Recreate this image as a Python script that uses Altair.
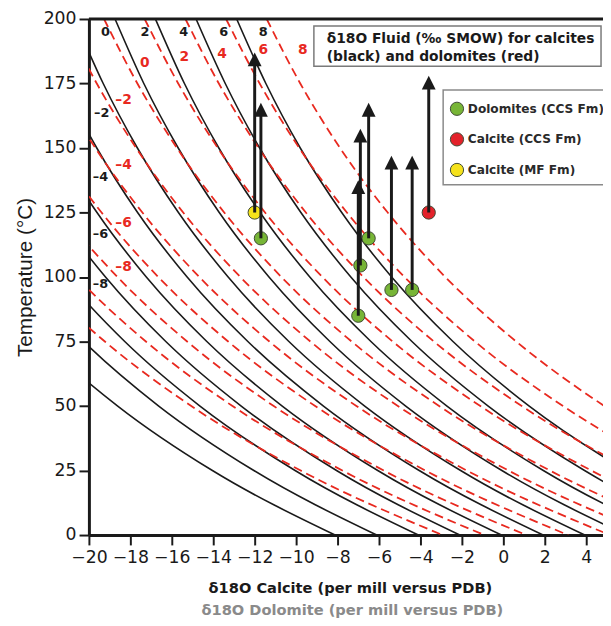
import altair as alt
import pandas as pd

# ---------------- data ----------------
T_LEVELS = [0, 25, 50, 75, 100, 125, 150, 175, 200]

# calcite isolines (black): fluid d18O (SMOW) and calcite d18O (PDB) at each T level
CALCITE_FLUIDS = [-12, -10, -8, -6, -4, -2, 0, 2, 4, 6, 8]
CALCITE_X = [
    [-8.12, -14.04, -18.61, -22.23, -25.12, -27.49, -29.44, -31.08, -32.46],
    [-6.11, -12.04, -16.63, -20.25, -23.15, -25.52, -27.48, -29.12, -30.50],
    [-4.10, -10.05, -14.64, -18.27, -21.18, -23.55, -25.51, -27.15, -28.54],
    [-2.10, -8.05, -12.65, -16.29, -19.20, -21.58, -23.55, -25.19, -26.58],
    [-0.09, -6.06, -10.67, -14.31, -17.23, -19.61, -21.58, -23.23, -24.62],
    [1.92, -4.06, -8.68, -12.33, -15.26, -17.65, -19.62, -21.27, -22.66],
    [3.93, -2.06, -6.69, -10.35, -13.28, -15.68, -17.66, -19.31, -20.70],
    [5.94, -0.07, -4.71, -8.37, -11.31, -13.71, -15.69, -17.35, -18.74],
    [7.94, 1.93, -2.72, -6.39, -9.34, -11.74, -13.73, -15.39, -16.79],
    [9.95, 3.92, -0.73, -4.41, -7.36, -9.77, -11.76, -13.42, -14.83],
    [11.96, 5.92, 1.25, -2.43, -5.39, -7.80, -9.80, -11.46, -12.87],
]

# dolomite isolines (red dashed)
DOLOMITE_FLUIDS = [-12, -10, -8, -6, -4, -2, 0, 2, 4, 6, 8]
DOLOMITE_X = [
    [-2.93, -9.78, -15.06, -19.23, -22.58, -25.31, -27.56, -29.45, -31.04],
    [-0.91, -7.77, -13.07, -17.25, -20.60, -23.34, -25.59, -27.48, -29.07],
    [1.11, -5.77, -11.08, -15.26, -18.62, -21.36, -23.63, -25.52, -27.11],
    [3.13, -3.76, -9.08, -13.28, -16.65, -19.39, -21.66, -23.55, -25.15],
    [5.15, -1.76, -7.09, -11.29, -14.67, -17.42, -19.69, -21.59, -23.19],
    [7.16, 0.25, -5.09, -9.31, -12.69, -15.45, -17.72, -19.62, -21.23],
    [9.18, 2.25, -3.10, -7.32, -10.71, -13.47, -15.75, -17.66, -19.27],
    [11.20, 4.25, -1.11, -5.34, -8.73, -11.50, -13.78, -15.69, -17.31],
    [13.22, 6.26, 0.89, -3.35, -6.75, -9.53, -11.81, -13.73, -15.34],
    [15.24, 8.26, 2.88, -1.37, -4.77, -7.55, -9.85, -11.76, -13.38],
    [17.26, 10.27, 4.88, 0.62, -2.80, -5.58, -7.88, -9.80, -11.42],
]

# samples
SAMPLE_GROUP = ["Dolomites (CCS Fm)"] * 6 + ["Calcite (CCS Fm)", "Calcite (MF Fm)"]
SAMPLE_X = [-11.7, -6.5, -6.9, -7.0, -5.4, -4.4, -3.6, -12.0]
SAMPLE_T = [115, 115, 104.5, 85, 95, 95, 125, 125]
SAMPLE_TOP = [167.5, 167.5, 157.5, 137.5, 147, 147, 178, 187]

LEGEND_NAMES = ["Dolomites (CCS Fm)", "Calcite (CCS Fm)", "Calcite (MF Fm)"]
LEGEND_COLORS = ["#77b536", "#e3222a", "#f5e21b"]

# isoline labels
CALC_LABEL_TEXT = ["0", "2", "4", "6", "8", "–2", "–4", "–6", "–8"]
CALC_LABEL_X = [-19.20, -17.30, -15.43, -13.49, -11.59, -19.38, -19.44, -19.44, -19.44]
CALC_LABEL_T = [194.9, 194.9, 194.9, 194.9, 194.9, 163.6, 138.8, 116.5, 97.2]
DOLO_LABEL_TEXT = ["0", "2", "4", "6", "8", "–2", "–4", "–6", "–8"]
DOLO_LABEL_X = [-17.30, -15.40, -13.57, -11.59, -9.68, -18.33, -18.33, -18.33, -18.33]
DOLO_LABEL_T = [182.8, 185.3, 186.6, 187.8, 187.8, 168.7, 143.3, 121.0, 103.8]

X_TICKS = list(range(-20, 5, 2))
Y_TICKS = list(range(0, 201, 25))

BOX_TITLE = ["δ18O Fluid (‰ SMOW) for calcites", "(black) and dolomites (red)"]
X_TITLE_1 = "δ18O Calcite (per mill versus PDB)"
X_TITLE_2 = "δ18O Dolomite (per mill versus PDB)"
Y_TITLE = "Temperature (°C)"

# ---------------- tables ----------------
def curves(fluids, table):
    rows = []
    for f, xs in zip(fluids, table):
        for t, x in zip(T_LEVELS, xs):
            rows.append({"fluid": f, "x": x, "T": t})
    return pd.DataFrame(rows)

calc_df = curves(CALCITE_FLUIDS, CALCITE_X)
dolo_df = curves(DOLOMITE_FLUIDS, DOLOMITE_X)
samp_df = pd.DataFrame({"group": SAMPLE_GROUP, "x": SAMPLE_X, "T": SAMPLE_T, "top": SAMPLE_TOP})
calc_lab = pd.DataFrame({"label": CALC_LABEL_TEXT, "x": CALC_LABEL_X, "T": CALC_LABEL_T})
dolo_lab = pd.DataFrame({"label": DOLO_LABEL_TEXT, "x": DOLO_LABEL_X, "T": DOLO_LABEL_T})
one = pd.DataFrame({"a": [0]})

W, H = 521, 523
FONT = "DejaVu Sans"
INK = "#1a1a1a"
RED = "#e8291f"

xs = alt.Scale(domain=[-20, 4.81], nice=False, zero=False)
ys = alt.Scale(domain=[0, 200], nice=False, zero=False)
x_axis = alt.Axis(values=X_TICKS, title=None, labelPadding=4, labelFlush=False, labelOverlap=False)
y_axis = alt.Axis(values=Y_TICKS, title=None, labelPadding=3)
X = alt.X("x:Q", scale=xs, axis=x_axis)
Y = alt.Y("T:Q", scale=ys, axis=y_axis)

black = alt.Chart(calc_df).mark_line(
    color=INK, strokeWidth=1.6, interpolate="monotone", clip=True
).encode(x=X, y=Y, detail="fluid:N")

red = alt.Chart(dolo_df).mark_line(
    color=RED, strokeWidth=1.8, strokeDash=[9, 5], interpolate="monotone", clip=True
).encode(x=X, y=Y, detail="fluid:N")

black_lab = alt.Chart(calc_lab).mark_text(
    font=FONT, fontSize=13, fontWeight="bold", color=INK, align="center", baseline="middle"
).encode(x=X, y=Y, text="label:N")

red_lab = alt.Chart(dolo_lab).mark_text(
    font=FONT, fontSize=14, fontWeight="bold", color=RED, align="center", baseline="middle"
).encode(x=X, y=Y, text="label:N")

color = alt.Color("group:N", scale=alt.Scale(domain=LEGEND_NAMES, range=LEGEND_COLORS), legend=None)

dots = alt.Chart(samp_df).mark_point(
    shape="circle", filled=True, size=180, stroke="#3f4a35", strokeWidth=1, opacity=1
).encode(x=X, y=Y, color=color)

shafts = alt.Chart(samp_df).mark_rule(strokeWidth=3, color=INK, y2Offset=6).encode(
    x=X, y=Y, y2=alt.Y2("top:Q")
)

heads = alt.Chart(samp_df).mark_point(
    shape="M0,-1L1,1L-1,1Z", filled=True, size=196, color=INK, opacity=1, yOffset=7
).encode(x=X, y=alt.Y("top:Q", scale=ys, axis=y_axis))

top_border = alt.Chart(one).mark_rule(strokeWidth=3, color=INK).encode(
    x=alt.value(0), x2=alt.value(W), y=alt.value(0)
)

# title box
tbox = alt.Chart(one).mark_rect(fill="white", stroke="#7a7a7a", strokeWidth=1.5).encode(
    x=alt.value(228), x2=alt.value(519), y=alt.value(7), y2=alt.value(48)
)
ttext = [
    alt.Chart(one).mark_text(font=FONT, fontSize=14, fontWeight="bold", color=INK,
                             align="left", baseline="middle").encode(
        x=alt.value(241), y=alt.value(yy), text=alt.value(s))
    for s, yy in zip(BOX_TITLE, [20, 38.5])
]

# legend box
lbox = alt.Chart(one).mark_rect(fill="white", stroke="#8a8a8a", strokeWidth=1.5).encode(
    x=alt.value(359), x2=alt.value(522), y=alt.value(72), y2=alt.value(168)
)
legend_layers = []
for name, col, yy in zip(LEGEND_NAMES, LEGEND_COLORS, [91, 122, 153]):
    legend_layers.append(
        alt.Chart(one).mark_point(shape="circle", filled=True, size=180, fill=col,
                                  stroke="#3f4a35", strokeWidth=1, opacity=1).encode(
            x=alt.value(373), y=alt.value(yy))
    )
    legend_layers.append(
        alt.Chart(one).mark_text(font=FONT, fontSize=12.3, fontWeight="bold", color="#2a2a2a",
                                 align="left", baseline="middle").encode(
            x=alt.value(384), y=alt.value(yy), text=alt.value(name))
    )

xt1 = alt.Chart(one).mark_text(font=FONT, fontSize=14.8, fontWeight="bold", color=INK,
                               align="center", baseline="middle").encode(
    x=alt.value(265), y=alt.value(578), text=alt.value(X_TITLE_1))
xt2 = alt.Chart(one).mark_text(font=FONT, fontSize=14.8, fontWeight="bold", color="#8a8a8a",
                               align="center", baseline="middle").encode(
    x=alt.value(267), y=alt.value(600), text=alt.value(X_TITLE_2))
yt = alt.Chart(one).mark_text(font="Liberation Sans", fontSize=21, color=INK, angle=270,
                              align="center", baseline="middle").encode(
    x=alt.value(-64), y=alt.value(262), text=alt.value(Y_TITLE))

chart = alt.layer(
    black, red, black_lab, red_lab, dots, shafts, heads, top_border,
    tbox, *ttext, lbox, *legend_layers, xt1, xt2, yt
).properties(
    width=W, height=H,
    autosize=alt.AutoSizeParams(type="none"),
    padding={"left": 82, "top": 7, "right": 0, "bottom": 86},
).configure_view(stroke=None).configure_axis(
    labelFont=FONT, labelFontSize=17.5, labelColor=INK,
    domainColor=INK, domainWidth=3, tickColor=INK, tickWidth=2, tickSize=10, grid=False,
)

chart.save("out.html", embed_options={"renderer": "svg", "actions": False})
